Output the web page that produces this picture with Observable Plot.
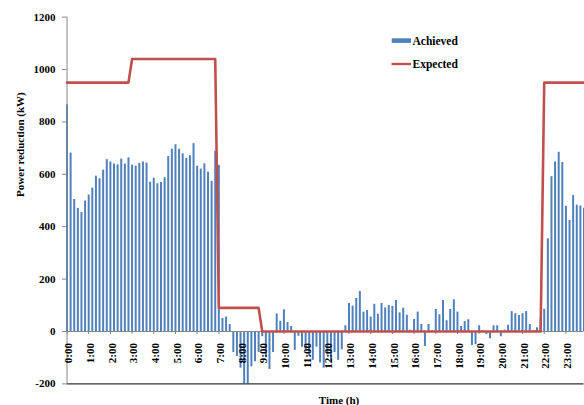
<!DOCTYPE html>
<html>
<head>
<meta charset="utf-8">
<script src="https://cdn.jsdelivr.net/npm/d3@7"></script>
<script src="https://cdn.jsdelivr.net/npm/@observablehq/plot@0.6"></script>
<style>
  html, body { margin: 0; padding: 0; background: #fff; }
  #chart { width: 584px; height: 405px; overflow: hidden; }
</style>
</head>
<body>
<div id="chart"></div>
<script>
// Hour labels on the time axis (one label every 6 ten-minute slots)
const hourLabels = [
  "0:00", "1:00", "2:00", "3:00", "4:00", "5:00", "6:00", "7:00",
  "8:00", "9:00", "10:00", "11:00", "12:00", "13:00", "14:00", "15:00",
  "16:00", "17:00", "18:00", "19:00", "20:00", "21:00", "22:00", "23:00"
];
const slotsPerHour = 6;

// Achieved power reduction (kW), ten-minute slots, one row per hour
const achieved = [
  865, 681, 504, 470, 454, 498,
  521, 547, 593, 583, 616, 656,
  647, 639, 636, 658, 639, 663,
  635, 631, 642, 647, 643, 570,
  585, 564, 569, 587, 668, 696,
  713, 696, 678, 661, 671, 717,
  631, 620, 640, 608, 573, 688,
  634, 50, 55, 27, -80, -95,
  -140, -200, -200, -135, -115, -80,
  -20, -100, -145, -80, 67, 39,
  83, 34, 19, -72, -18, -60,
  -70, -95, -110, -60, -120, -140,
  -90, -115, -80, -110, -70, 22,
  107, 97, 126, 153, 74, 80,
  55, 104, 66, 107, 90, 99,
  96, 118, 71, 89, 62, 5,
  46, 74, 27, -57, 27, 3,
  84, 64, 118, 41, 84, 121,
  74, 19, 38, 45, -54, -50,
  22, 3, -12, -28, 22, 22,
  -20, 5, 24, 76, 68, 61,
  68, 76, 27, 3, 14, 50,
  85, 354, 591, 647, 684, 645,
  478, 424, 519, 482, 479, 470
];

// Expected power reduction (kW), same slots
const expected = [
  950, 950, 950, 950, 950, 950,
  950, 950, 950, 950, 950, 950,
  950, 950, 950, 950, 950, 950,
  1040, 1040, 1040, 1040, 1040, 1040,
  1040, 1040, 1040, 1040, 1040, 1040,
  1040, 1040, 1040, 1040, 1040, 1040,
  1040, 1040, 1040, 1040, 1040, 1040,
  90, 90, 90, 90, 90, 90,
  90, 90, 90, 90, 90, 90,
  0, 0, 0, 0, 0, 0,
  0, 0, 0, 0, 0, 0,
  0, 0, 0, 0, 0, 0,
  0, 0, 0, 0, 0, 0,
  0, 0, 0, 0, 0, 0,
  0, 0, 0, 0, 0, 0,
  0, 0, 0, 0, 0, 0,
  0, 0, 0, 0, 0, 0,
  0, 0, 0, 0, 0, 0,
  0, 0, 0, 0, 0, 0,
  0, 0, 0, 0, 0, 0,
  0, 0, 0, 0, 0, 0,
  0, 0, 0, 0, 0, 0,
  950, 950, 950, 950, 950, 950,
  950, 950, 950, 950, 950, 950
];

const yTicks = [-200, 0, 200, 400, 600, 800, 1000, 1200];

const seriesNames = ["Achieved", "Expected"];
const colors = { Achieved: "#4f81bd", Expected: "#c0504d" };

// ---- derived tables ----
const slots = achieved.map((v, i) => ({ i, achieved: v, expected: expected[i] }));
const hours = hourLabels.map((label, h) => ({ i: h * slotsPerHour, label }));

const W = 584, H = 405;
const mTop = 16.6, mBottom = 21.6, mLeft = 66.5, mRight = 0.5;
const yPerPx = (1200 - (-200)) / (H - mTop - mBottom);
const xPerPx = (slots.length - 1) / (W - mLeft - mRight);

const font = "'Liberation Serif', 'Times New Roman', serif";
const axisGray = "#868686";

const chart = Plot.plot({
  width: W,
  height: H,
  marginTop: mTop,
  marginBottom: mBottom,
  marginLeft: mLeft,
  marginRight: mRight,
  x: { domain: [0, slots.length - 1], axis: null },
  y: { domain: [-200, 1200], axis: null },
  style: { fontFamily: font, background: "#fff", color: "#000", overflow: "hidden" },
  marks: [
    // achieved bars
    Plot.ruleX(slots, { x: "i", y1: 0, y2: "achieved", stroke: colors.Achieved, strokeWidth: 2 }),
    // bottom border of the plot area
    Plot.ruleY([-200], { stroke: "#333", strokeWidth: 1.3 }),
    // horizontal axis along zero
    Plot.ruleY([0], { stroke: axisGray, strokeWidth: 1 }),
    Plot.ruleX(hours, { x: "i", y1: 0, y2: -3 * yPerPx, stroke: axisGray, strokeWidth: 1 }),
    // vertical axis
    Plot.ruleX([0], { stroke: axisGray, strokeWidth: 1 }),
    Plot.ruleY(yTicks, { y: d => d, x1: -4.5 * xPerPx, x2: 0, stroke: axisGray, strokeWidth: 1 }),
    Plot.text(yTicks, {
      x: 0, y: d => d, text: d => String(d),
      textAnchor: "end", dx: -11.5,
      fontSize: 11, fontWeight: "bold", fill: "#000"
    }),
    // expected profile
    Plot.line(slots, { x: "i", y: "expected", stroke: colors.Expected, strokeWidth: 2.6 }),
    // hour labels, rotated, hanging below the zero line
    Plot.text(hours, {
      x: "i", y: 0, text: "label",
      rotate: -90, textAnchor: "end", dy: 11.5, dx: 1.6,
      fontSize: 11, fontWeight: "bold", fill: "#000"
    }),
    // axis titles
    Plot.text(["Time (h)"], {
      frameAnchor: "bottom", text: d => d,
      dx: 13.5, dy: 20,
      fontSize: 11, fontWeight: "bold", fill: "#000"
    }),
    Plot.text(["Power reduction (kW)"], {
      frameAnchor: "left", text: d => d,
      rotate: -90, dx: -46.5, dy: -3.5,
      fontSize: 11, fontWeight: "bold", fill: "#000"
    })
  ]
});

// legend
const svg = d3.select(chart);
const legend = svg.append("g")
  .attr("font-family", font)
  .attr("font-size", 11.5)
  .attr("font-weight", "bold")
  .attr("text-anchor", "start")
  .attr("fill", "#000");
legend.append("rect")
  .attr("x", 391.7).attr("y", 38.3).attr("width", 19.3).attr("height", 4.6)
  .attr("fill", colors.Achieved);
legend.append("text").attr("x", 412.5).attr("y", 45.2).text(seriesNames[0]);
legend.append("line")
  .attr("x1", 391.5).attr("x2", 411).attr("y1", 64).attr("y2", 64)
  .attr("stroke", colors.Expected).attr("stroke-width", 2.4);
legend.append("text").attr("x", 412.5).attr("y", 68).text(seriesNames[1]);

document.getElementById("chart").appendChild(chart);
</script>
</body>
</html>
